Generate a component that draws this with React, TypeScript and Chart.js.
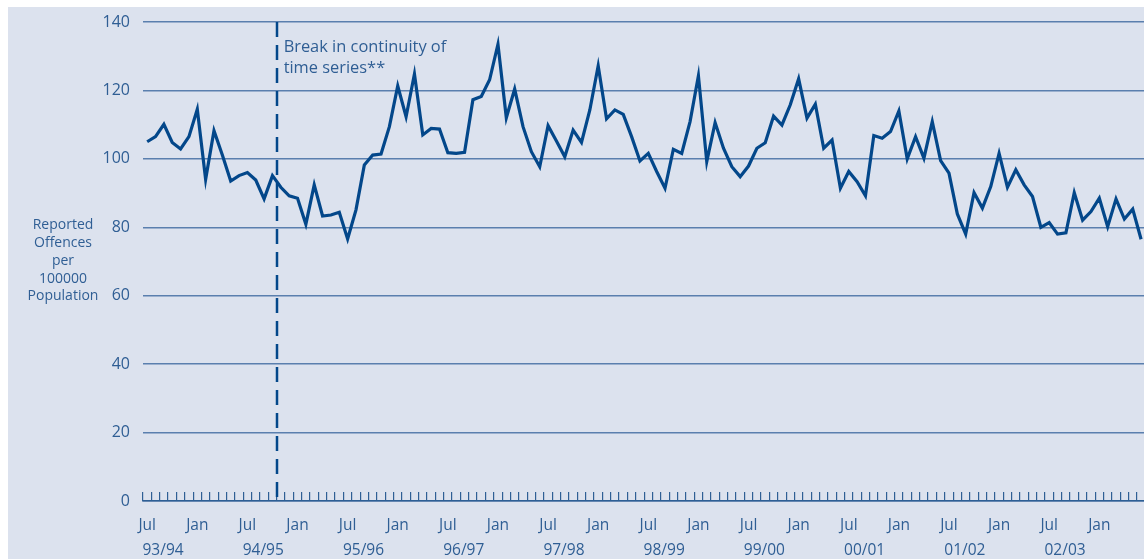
import React, { useEffect, useRef } from 'react';
import { Chart, registerables } from 'chart.js';

Chart.register(...registerables);

// Monthly reported offences per 100000 population, Jul 1993 – Jun 2003
const VALUES: number[] = [
  105.0, 106.5, 110.1, 104.8, 102.9, 106.5, 114.5, 94.0, 108.2, 101.1, 93.5, 95.1,
  96.0, 93.8, 88.3, 95.1, 91.7, 89.2, 88.5, 80.9, 92.4, 83.3, 83.6, 84.4,
  76.6, 85.1, 98.2, 101.1, 101.4, 109.4, 121.3, 112.3, 124.8, 107.0, 108.9, 108.7,
  101.8, 101.6, 101.9, 117.3, 118.2, 123.1, 133.5, 112.0, 120.4, 109.4, 102.1, 97.7,
  109.7, 105.2, 100.6, 108.4, 104.8, 114.3, 127.2, 111.7, 114.3, 113.0, 106.5, 99.4,
  101.6, 96.3, 91.4, 102.8, 101.6, 110.9, 124.3, 99.2, 110.6, 103.1, 97.7, 94.8,
  97.9, 103.1, 104.7, 112.5, 109.9, 115.8, 123.4, 111.9, 116.0, 103.1, 105.5, 91.4,
  96.3, 93.3, 89.2, 106.8, 106.0, 108.0, 114.0, 100.0, 106.5, 100.2, 110.9, 99.5,
  95.8, 83.9, 78.0, 90.1, 85.6, 91.9, 101.6, 91.7, 96.8, 92.4, 89.0, 80.0,
  81.4, 78.0, 78.4, 90.1, 82.1, 84.6, 88.5, 80.2, 88.3, 82.4, 85.3, 76.5,
];

const MONTH_TICKS: number[] = [0, 6, 12, 18, 24, 30, 36, 42, 48, 54, 60, 66, 72, 78, 84, 90, 96, 102, 108, 114];
const MONTH_LABELS: string[] = ['Jul', 'Jan'];
const YEAR_LABELS: string[] = ['93/94', '94/95', '95/96', '96/97', '97/98', '98/99', '99/00', '00/01', '01/02', '02/03'];
const Y_TICKS: number[] = [0, 20, 40, 60, 80, 100, 120, 140];
const Y_TITLE: string[] = ['Reported', 'Offences', 'per', '100000', 'Population'];
const NOTE: string[] = ['Break in continuity of', 'time series**'];
const BREAK_AT = 15.5;

const X_MIN = -0.5;
const X_MAX = 119.35;
const BG = '#dce2ee';
const LINE = '#03478a';
const GRID = '#5a7fae';
const TICK = '#2e5f95';
const TEXT = '#2f5e94';
const FONT = "'Open Sans', 'DejaVu Sans', sans-serif";

const zeroPad = (s: any) => {
  s.paddingTop = 0;
  s.paddingBottom = 0;
  s.paddingLeft = 0;
  s.paddingRight = 0;
};

export default function App() {
  const ref = useRef<HTMLCanvasElement>(null);

  useEffect(() => {
    const canvas = ref.current;
    if (!canvas) return;

    const overlay = {
      id: 'overlay',
      beforeDatasetsDraw(chart: any) {
        const { ctx, chartArea, scales } = chart;
        const x = Math.round(scales.x.getPixelForValue(BREAK_AT));
        ctx.save();
        ctx.strokeStyle = LINE;
        ctx.lineWidth = 2.5;
        ctx.setLineDash([15, 8]);
        ctx.beginPath();
        ctx.moveTo(x, chartArea.top);
        ctx.lineTo(x, scales.y.getPixelForValue(0));
        ctx.stroke();
        ctx.restore();
      },
      afterDraw(chart: any) {
        const { ctx, chartArea, scales } = chart;
        ctx.save();
        ctx.fillStyle = TEXT;
        ctx.textBaseline = 'middle';
        // annotation
        const bx = scales.x.getPixelForValue(BREAK_AT) + 7;
        ctx.textAlign = 'left';
        ctx.font = `16.4px ${FONT}`;
        NOTE.forEach((t, i) => ctx.fillText(t, bx, chartArea.top + 25 + i * 21));
        // y title
        ctx.textAlign = 'center';
        ctx.font = `14px ${FONT}`;
        const cy = scales.y.getPixelForValue(70.2);
        const step = 17.8;
        Y_TITLE.forEach((t, i) =>
          ctx.fillText(t, 55, cy + (i - (Y_TITLE.length - 1) / 2) * step)
        );
        ctx.restore();
      },
    };

    const chart = new Chart(canvas, {
      type: 'line',
      data: {
        datasets: [
          {
            data: VALUES.map((v, i) => ({ x: i, y: v })),
            borderColor: LINE,
            borderWidth: 3.2,
            pointRadius: 0,
            tension: 0,
            fill: false,
            borderJoinStyle: 'miter',
          },
        ],
      },
      options: {
        animation: false,
        responsive: false,
        layout: { padding: { top: 15, left: 0, right: 0, bottom: 0 } },
        plugins: { legend: { display: false }, tooltip: { enabled: false } },
        scales: {
          x: {
            type: 'linear',
            position: 'bottom',
            weight: 1,
            min: X_MIN,
            max: X_MAX,
            afterBuildTicks: (s: any) => {
              s.ticks = MONTH_TICKS.map((v) => ({ value: v }));
            },
            afterFit: (s: any) => {
              s.height = 34;
              zeroPad(s);
            },
            grid: { display: false, drawTicks: false },
            border: { display: true, color: TICK, width: 1.5 },
            ticks: {
              autoSkip: false,
              maxRotation: 0,
              padding: 15,
              color: TEXT,
              font: { family: FONT, size: 15.5 },
              callback: (v: any) => MONTH_LABELS[Math.round(v / 6) % 2],
            },
          },
          xy: {
            type: 'linear',
            axis: 'x',
            position: 'bottom',
            weight: 2,
            min: X_MIN,
            max: X_MAX,
            afterBuildTicks: (s: any) => {
              s.ticks = YEAR_LABELS.map((_, i) => ({ value: i * 12 + 1.9 }));
            },
            afterFit: (s: any) => {
              s.height = 24;
              zeroPad(s);
            },
            grid: { display: false, drawTicks: false },
            border: { display: false },
            ticks: {
              autoSkip: false,
              maxRotation: 0,
              padding: 6,
              color: TEXT,
              font: { family: FONT, size: 15.5 },
              callback: (v: any) => YEAR_LABELS[Math.round((v - 1.9) / 12)],
            },
          },
          xt: {
            type: 'linear',
            axis: 'x',
            position: { y: 9 / 3.421 },
            min: X_MIN,
            max: X_MAX,
            afterBuildTicks: (s: any) => {
              s.ticks = VALUES.map((_, i) => ({ value: i - 0.5 }));
            },
            afterFit: (s: any) => {
              zeroPad(s);
            },
            grid: {
              display: true,
              drawOnChartArea: false,
              drawTicks: true,
              tickLength: 9,
              color: TICK,
              lineWidth: 1.2,
            },
            border: { display: false },
            ticks: { display: false },
          },
          y: {
            type: 'linear',
            min: 0,
            max: 140,
            afterBuildTicks: (s: any) => {
              s.ticks = Y_TICKS.map((v) => ({ value: v }));
            },
            afterFit: (s: any) => {
              s.width = 135;
              zeroPad(s);
            },
            grid: { color: GRID, lineWidth: 1.5, drawTicks: false },
            border: { display: false },
            ticks: {
              padding: 13,
              color: TEXT,
              font: { family: FONT, size: 16 },
            },
          },
        },
      },
      plugins: [overlay],
    } as any);

    return () => chart.destroy();
  }, []);

  return (
    <div
      style={{
        position: 'absolute',
        left: 8,
        top: 7,
        width: 1136,
        height: 552,
        background: BG,
      }}
    >
      <canvas ref={ref} width={1136} height={552} style={{ display: 'block' }} />
    </div>
  );
}
